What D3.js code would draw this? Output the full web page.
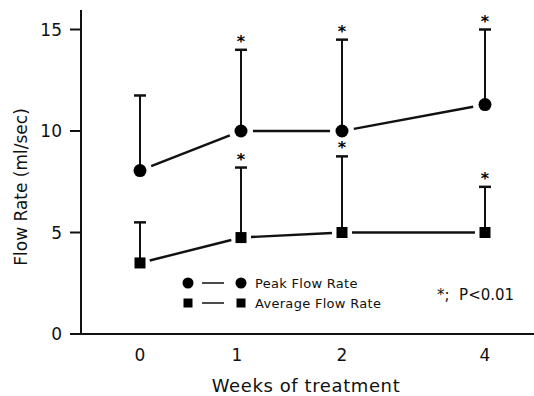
<!DOCTYPE html>
<html>
<head>
<meta charset="utf-8">
<script src="https://cdn.jsdelivr.net/npm/d3@7"></script>
<style>
  body { margin: 0; background: #fff; }
  svg text { font-family: "DejaVu Sans", sans-serif; fill: #111; }
</style>
</head>
<body>
<div id="chart"></div>
<script>
// weeks of treatment
const weeks = [0, 1, 2, 4];
const weekLabels = ['0', '1', '2', '4'];

// flow rates (ml/sec), mean and mean+SD
const peakMean = [8.05, 10.0, 10.0, 11.3];
const peakUpper = [11.75, 14.0, 14.5, 15.0];
const avgMean = [3.5, 4.75, 5.0, 5.0];
const avgUpper = [5.5, 8.2, 8.75, 7.25];

// significant points (P<0.01)
const signif = [false, true, true, true];

const yTicks = [0, 5, 10, 15];

const width = 534, height = 396;

const svg = d3.select('#chart').append('svg')
  .attr('width', width)
  .attr('height', height);

// x positions are not evenly spaced in the original: 4 weeks sits closer
const x = d3.scaleLinear().domain([0, 2, 4]).range([140, 342, 485]);
const y = d3.scaleLinear().domain([0, 15]).range([334, 29.5]);

// axes
const yAxis = svg.append('g').attr('transform', 'translate(81,0)');
yAxis.append('line')
  .attr('x1', 0).attr('x2', 0)
  .attr('y1', 10).attr('y2', 335)
  .attr('stroke', '#111').attr('stroke-width', 2);
yAxis.selectAll('line.tick')
  .data(yTicks)
  .enter().append('line')
  .attr('class', 'tick')
  .attr('x1', -11).attr('x2', 0)
  .attr('y1', d => y(d)).attr('y2', d => y(d))
  .attr('stroke', '#111').attr('stroke-width', 2);
yAxis.selectAll('text')
  .data(yTicks)
  .enter().append('text')
  .attr('x', -19)
  .attr('y', d => y(d))
  .attr('text-anchor', 'end')
  .attr('dominant-baseline', 'central')
  .style('font-size', '17px')
  .text(d => d);

svg.append('line')
  .attr('x1', 80).attr('x2', 534)
  .attr('y1', 334).attr('y2', 334)
  .attr('stroke', '#111').attr('stroke-width', 2);

svg.append('g').selectAll('text')
  .data(weeks)
  .enter().append('text')
  .attr('x', (d, i) => x(d) - (i === 1 ? 4 : 0))
  .attr('y', 355)
  .attr('text-anchor', 'middle')
  .attr('dominant-baseline', 'central')
  .style('font-size', '17px')
  .text((d, i) => weekLabels[i]);

svg.append('text')
  .attr('x', 306).attr('y', 385)
  .attr('text-anchor', 'middle')
  .attr('dominant-baseline', 'central')
  .style('font-size', '18px')
  .style('letter-spacing', '0.6px')
  .text('Weeks of treatment');

svg.append('text')
  .attr('transform', 'translate(21,187) rotate(-90)')
  .attr('text-anchor', 'middle')
  .attr('dominant-baseline', 'central')
  .style('font-size', '17px')
  .text('Flow Rate (ml/sec)');

function drawSeries(means, uppers, shape, gap) {
  const g = svg.append('g');
  const pts = weeks.map((w, i) => ({w: w, m: means[i], u: uppers[i], s: signif[i]}));

  // connecting segments, trimmed so they don't touch the markers
  const segs = d3.pairs(pts);
  g.selectAll('line.seg')
    .data(segs)
    .enter().append('line')
    .attr('class', 'seg')
    .each(function(d) {
      const x1 = x(d[0].w), y1 = y(d[0].m), x2 = x(d[1].w), y2 = y(d[1].m);
      const dx = x2 - x1, dy = y2 - y1, len = Math.sqrt(dx * dx + dy * dy);
      const nx = dx / len, ny = dy / len;
      d3.select(this)
        .attr('x1', x1 + nx * gap).attr('y1', y1 + ny * gap)
        .attr('x2', x2 - nx * gap).attr('y2', y2 - ny * gap);
    })
    .attr('stroke', '#111').attr('stroke-width', 2.4);

  // error bars (upper only)
  g.selectAll('line.err')
    .data(pts)
    .enter().append('line')
    .attr('class', 'err')
    .attr('x1', d => x(d.w)).attr('x2', d => x(d.w))
    .attr('y1', d => y(d.m)).attr('y2', d => y(d.u))
    .attr('stroke', '#111').attr('stroke-width', 2);
  g.selectAll('line.cap')
    .data(pts)
    .enter().append('line')
    .attr('class', 'cap')
    .attr('x1', d => x(d.w) - 6).attr('x2', d => x(d.w) + 6)
    .attr('y1', d => y(d.u)).attr('y2', d => y(d.u))
    .attr('stroke', '#111').attr('stroke-width', 2.5);
  g.selectAll('text.star')
    .data(pts.filter(d => d.s))
    .enter().append('text')
    .attr('class', 'star')
    .attr('x', d => x(d.w))
    .attr('y', d => y(d.u) - 3)
    .attr('text-anchor', 'middle')
    .style('font-size', '16px')
    .style('font-weight', 'bold')
    .style('fill', '#000')
    .text('*');

  // markers
  if (shape === 'circle') {
    g.selectAll('circle')
      .data(pts)
      .enter().append('circle')
      .attr('cx', d => x(d.w)).attr('cy', d => y(d.m))
      .attr('r', 6.5)
      .attr('fill', '#000');
  } else {
    g.selectAll('rect')
      .data(pts)
      .enter().append('rect')
      .attr('x', d => x(d.w) - 5.5).attr('y', d => y(d.m) - 5.5)
      .attr('width', 11).attr('height', 11)
      .attr('fill', '#000');
  }
}

drawSeries(avgMean, avgUpper, 'square', 10);
drawSeries(peakMean, peakUpper, 'circle', 12);

// legend
const legend = svg.append('g');
const legendItems = [
  {label: 'Peak Flow Rate', shape: 'circle', y: 283},
  {label: 'Average Flow Rate', shape: 'square', y: 303}
];
legendItems.forEach(item => {
  [188, 241].forEach(cx => {
    if (item.shape === 'circle') {
      legend.append('circle').attr('cx', cx).attr('cy', item.y).attr('r', 5.5).attr('fill', '#000');
    } else {
      legend.append('rect').attr('x', cx - 4.5).attr('y', item.y - 4.5)
        .attr('width', 9).attr('height', 9).attr('fill', '#000');
    }
  });
  legend.append('line')
    .attr('x1', 202).attr('x2', 224)
    .attr('y1', item.y).attr('y2', item.y)
    .attr('stroke', '#111').attr('stroke-width', 1.5);
  legend.append('text')
    .attr('x', 255).attr('y', item.y)
    .attr('dominant-baseline', 'central')
    .style('font-size', '13px')
    .style('letter-spacing', '0.3px')
    .text(item.label);
});

svg.append('text')
  .attr('x', 437).attr('y', 295)
  .attr('dominant-baseline', 'central')
  .attr('xml:space', 'preserve')
  .style('white-space', 'pre')
  .style('font-size', '15px')
  .text('*;  P<0.01');
</script>
</body>
</html>
